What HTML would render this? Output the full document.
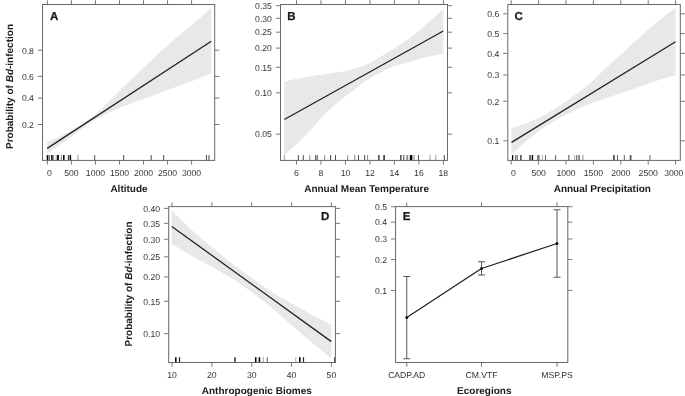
<!DOCTYPE html>
<html><head><meta charset="utf-8"><title>Figure</title>
<style>html,body{margin:0;padding:0;background:#fff}svg{display:block}text{font-family:"Liberation Sans",sans-serif;text-rendering:geometricPrecision}</style>
</head><body>
<svg width="685" height="396" viewBox="0 0 685 396">
<rect width="685" height="396" fill="#fff"/>
<g>
<polygon points="47.2,141.4 51.3,140.28 55.41,138.81 59.51,136.87 63.61,134.72 67.71,132.44 71.81,130.11 75.92,127.72 80.02,125.16 84.12,122.39 88.23,119.51 92.33,116.5 96.43,113.18 100.53,109.61 104.64,105.65 108.74,101.48 112.84,97.29 116.94,93.25 121.05,89.26 125.15,85.3 129.25,81.35 133.35,77.41 137.46,73.49 141.56,69.59 145.66,65.7 149.76,61.87 153.87,58.06 157.97,54.26 162.07,50.5 166.17,46.79 170.28,43.15 174.38,39.59 178.48,36.11 182.58,32.66 186.69,29.23 190.79,25.78 194.89,22.3 198.99,18.76 203.1,15.2 207.2,11.61 211.3,8.0 211.3,73.2 207.2,74.93 203.1,76.62 198.99,78.28 194.89,79.89 190.79,81.45 186.69,82.96 182.58,84.45 178.48,85.92 174.38,87.41 170.28,88.94 166.17,90.51 162.07,92.11 157.97,93.71 153.87,95.29 149.76,96.83 145.66,98.3 141.56,99.71 137.46,101.13 133.35,102.62 129.25,104.16 125.15,105.71 121.05,107.32 116.94,109.05 112.84,110.92 108.74,112.84 104.64,114.83 100.53,116.95 96.43,119.23 92.33,121.59 88.23,124.23 84.12,127.14 80.02,130.14 75.92,133.23 71.81,136.4 67.71,139.45 63.61,142.4 59.51,145.29 55.41,148.07 51.3,150.8 47.2,153.5" fill="#e8e8e8"/>
<polyline points="47.2,148.4 211.3,41.2" fill="none" stroke="#222" stroke-width="1.3" stroke-linejoin="round"/>
<line x1="37.9" y1="50.2" x2="42.5" y2="50.2" stroke="#555" stroke-width="0.8"/>
<line x1="214.7" y1="50.2" x2="219.29999999999998" y2="50.2" stroke="#555" stroke-width="0.8"/>
<text x="33.9" y="53.5" text-anchor="end" font-size="8.65" fill="#333" >0.8</text>
<line x1="37.9" y1="76.4" x2="42.5" y2="76.4" stroke="#555" stroke-width="0.8"/>
<line x1="214.7" y1="76.4" x2="219.29999999999998" y2="76.4" stroke="#555" stroke-width="0.8"/>
<text x="33.9" y="79.7" text-anchor="end" font-size="8.65" fill="#333" >0.6</text>
<line x1="37.9" y1="98.1" x2="42.5" y2="98.1" stroke="#555" stroke-width="0.8"/>
<line x1="214.7" y1="98.1" x2="219.29999999999998" y2="98.1" stroke="#555" stroke-width="0.8"/>
<text x="33.9" y="101.39999999999999" text-anchor="end" font-size="8.65" fill="#333" >0.4</text>
<line x1="37.9" y1="124.5" x2="42.5" y2="124.5" stroke="#555" stroke-width="0.8"/>
<line x1="214.7" y1="124.5" x2="219.29999999999998" y2="124.5" stroke="#555" stroke-width="0.8"/>
<text x="33.9" y="127.8" text-anchor="end" font-size="8.65" fill="#333" >0.2</text>
<line x1="47.4" y1="0.2999999999999998" x2="47.4" y2="4.5" stroke="#555" stroke-width="0.8"/>
<line x1="47.4" y1="160.4" x2="47.4" y2="164.6" stroke="#555" stroke-width="0.8"/>
<text x="49.4" y="175.6" text-anchor="middle" font-size="8.65" fill="#333" >0</text>
<line x1="71.43" y1="0.2999999999999998" x2="71.43" y2="4.5" stroke="#555" stroke-width="0.8"/>
<line x1="71.43" y1="160.4" x2="71.43" y2="164.6" stroke="#555" stroke-width="0.8"/>
<text x="71.43" y="175.6" text-anchor="middle" font-size="8.65" fill="#333" >500</text>
<line x1="95.46000000000001" y1="0.2999999999999998" x2="95.46000000000001" y2="4.5" stroke="#555" stroke-width="0.8"/>
<line x1="95.46000000000001" y1="160.4" x2="95.46000000000001" y2="164.6" stroke="#555" stroke-width="0.8"/>
<text x="95.46000000000001" y="175.6" text-anchor="middle" font-size="8.65" fill="#333" >1000</text>
<line x1="119.49000000000001" y1="0.2999999999999998" x2="119.49000000000001" y2="4.5" stroke="#555" stroke-width="0.8"/>
<line x1="119.49000000000001" y1="160.4" x2="119.49000000000001" y2="164.6" stroke="#555" stroke-width="0.8"/>
<text x="119.49000000000001" y="175.6" text-anchor="middle" font-size="8.65" fill="#333" >1500</text>
<line x1="143.52" y1="0.2999999999999998" x2="143.52" y2="4.5" stroke="#555" stroke-width="0.8"/>
<line x1="143.52" y1="160.4" x2="143.52" y2="164.6" stroke="#555" stroke-width="0.8"/>
<text x="143.52" y="175.6" text-anchor="middle" font-size="8.65" fill="#333" >2000</text>
<line x1="167.55" y1="0.2999999999999998" x2="167.55" y2="4.5" stroke="#555" stroke-width="0.8"/>
<line x1="167.55" y1="160.4" x2="167.55" y2="164.6" stroke="#555" stroke-width="0.8"/>
<text x="167.55" y="175.6" text-anchor="middle" font-size="8.65" fill="#333" >2500</text>
<line x1="191.58" y1="0.2999999999999998" x2="191.58" y2="4.5" stroke="#555" stroke-width="0.8"/>
<line x1="191.58" y1="160.4" x2="191.58" y2="164.6" stroke="#555" stroke-width="0.8"/>
<text x="191.58" y="175.6" text-anchor="middle" font-size="8.65" fill="#333" >3000</text>
<line x1="47.5" y1="155.1" x2="47.5" y2="160.4" stroke="#000" stroke-width="1.6"/>
<line x1="49.3" y1="155.1" x2="49.3" y2="160.4" stroke="#333" stroke-width="0.9"/>
<line x1="51.6" y1="155.1" x2="51.6" y2="160.4" stroke="#222" stroke-width="1.2"/>
<line x1="52.9" y1="155.1" x2="52.9" y2="160.4" stroke="#222" stroke-width="1.2"/>
<line x1="56.2" y1="155.1" x2="56.2" y2="160.4" stroke="#999" stroke-width="1"/>
<line x1="58" y1="155.1" x2="58" y2="160.4" stroke="#000" stroke-width="1.8"/>
<line x1="61.4" y1="155.1" x2="61.4" y2="160.4" stroke="#666" stroke-width="0.8"/>
<line x1="63.8" y1="155.1" x2="63.8" y2="160.4" stroke="#111" stroke-width="1.6"/>
<line x1="68.5" y1="155.1" x2="68.5" y2="160.4" stroke="#333" stroke-width="1.2"/>
<line x1="70.4" y1="155.1" x2="70.4" y2="160.4" stroke="#000" stroke-width="1.4"/>
<line x1="78" y1="155.1" x2="78" y2="160.4" stroke="#888" stroke-width="0.9"/>
<line x1="94.7" y1="155.1" x2="94.7" y2="160.4" stroke="#333" stroke-width="0.9"/>
<line x1="123.7" y1="155.1" x2="123.7" y2="160.4" stroke="#333" stroke-width="0.9"/>
<line x1="151.2" y1="155.1" x2="151.2" y2="160.4" stroke="#333" stroke-width="0.9"/>
<line x1="163.7" y1="155.1" x2="163.7" y2="160.4" stroke="#333" stroke-width="0.9"/>
<line x1="206.5" y1="155.1" x2="206.5" y2="160.4" stroke="#333" stroke-width="0.9"/>
<line x1="209" y1="155.1" x2="209" y2="160.4" stroke="#333" stroke-width="0.9"/>
<rect x="42.5" y="4.5" width="172.2" height="155.9" fill="none" stroke="#686868" stroke-width="1"/>
<text x="50" y="19.8" text-anchor="start" font-size="11.5" font-weight="bold" fill="#1a1a1a" stroke="#1a1a1a" stroke-width="0.25">A</text>
<text x="129" y="192" text-anchor="middle" font-size="10" font-weight="bold" fill="#1a1a1a" >Altitude</text>
<polygon points="284.3,81.7 288.28,80.77 292.25,79.87 296.23,79.02 300.2,78.21 304.18,77.44 308.15,76.72 312.12,76.09 316.1,75.51 320.07,74.95 324.05,74.38 328.03,73.79 332.0,73.14 335.98,72.55 339.95,71.97 343.93,71.3 347.9,70.44 351.88,69.34 355.85,68.23 359.83,67.06 363.8,65.71 367.77,64.03 371.75,61.92 375.73,59.62 379.7,57.24 383.68,54.81 387.65,52.36 391.62,49.9 395.6,47.42 399.58,44.9 403.55,42.31 407.52,39.65 411.5,36.89 415.48,33.81 419.45,30.41 423.43,26.83 427.4,23.22 431.38,19.69 435.35,16.17 439.33,12.6 443.3,9.0 443.3,54.0 439.33,54.56 435.35,55.22 431.38,56.0 427.4,56.92 423.43,57.96 419.45,59.07 415.48,60.22 411.5,61.39 407.52,62.48 403.55,63.48 399.58,64.52 395.6,65.74 391.62,67.27 387.65,69.12 383.68,71.02 379.7,72.98 375.73,75.01 371.75,77.13 367.77,79.47 363.8,82.29 359.83,85.37 355.85,88.46 351.88,91.46 347.9,94.49 343.93,97.58 339.95,100.74 335.98,103.99 332.0,107.37 328.03,110.96 324.05,114.92 320.07,119.16 316.1,123.55 312.12,127.96 308.15,132.25 304.18,136.31 300.2,140.25 296.23,144.13 292.25,147.95 288.28,151.7 284.3,155.4" fill="#e8e8e8"/>
<polyline points="284.3,119.5 443.3,31" fill="none" stroke="#222" stroke-width="1.3" stroke-linejoin="round"/>
<line x1="275.9" y1="5.7" x2="280.5" y2="5.7" stroke="#555" stroke-width="0.8"/>
<line x1="447.5" y1="5.7" x2="452.1" y2="5.7" stroke="#555" stroke-width="0.8"/>
<text x="271.9" y="9.0" text-anchor="end" font-size="8.65" fill="#333" >0.35</text>
<line x1="275.9" y1="18.30900793542934" x2="280.5" y2="18.30900793542934" stroke="#555" stroke-width="0.8"/>
<line x1="447.5" y1="18.30900793542934" x2="452.1" y2="18.30900793542934" stroke="#555" stroke-width="0.8"/>
<text x="271.9" y="21.60900793542934" text-anchor="end" font-size="8.65" fill="#333" >0.30</text>
<line x1="275.9" y1="32.1916169536666" x2="280.5" y2="32.1916169536666" stroke="#555" stroke-width="0.8"/>
<line x1="447.5" y1="32.1916169536666" x2="452.1" y2="32.1916169536666" stroke="#555" stroke-width="0.8"/>
<text x="271.9" y="35.4916169536666" text-anchor="end" font-size="8.65" fill="#333" >0.25</text>
<line x1="275.9" y1="48.08317463590297" x2="280.5" y2="48.08317463590297" stroke="#555" stroke-width="0.8"/>
<line x1="447.5" y1="48.08317463590297" x2="452.1" y2="48.08317463590297" stroke="#555" stroke-width="0.8"/>
<text x="271.9" y="51.38317463590297" text-anchor="end" font-size="8.65" fill="#333" >0.20</text>
<line x1="275.9" y1="67.32363642727921" x2="280.5" y2="67.32363642727921" stroke="#555" stroke-width="0.8"/>
<line x1="447.5" y1="67.32363642727921" x2="452.1" y2="67.32363642727921" stroke="#555" stroke-width="0.8"/>
<text x="271.9" y="70.62363642727921" text-anchor="end" font-size="8.65" fill="#333" >0.15</text>
<line x1="275.9" y1="92.87895977969296" x2="280.5" y2="92.87895977969296" stroke="#555" stroke-width="0.8"/>
<line x1="447.5" y1="92.87895977969296" x2="452.1" y2="92.87895977969296" stroke="#555" stroke-width="0.8"/>
<text x="271.9" y="96.17895977969296" text-anchor="end" font-size="8.65" fill="#333" >0.10</text>
<line x1="275.9" y1="134.15508333679435" x2="280.5" y2="134.15508333679435" stroke="#555" stroke-width="0.8"/>
<line x1="447.5" y1="134.15508333679435" x2="452.1" y2="134.15508333679435" stroke="#555" stroke-width="0.8"/>
<text x="271.9" y="137.45508333679436" text-anchor="end" font-size="8.65" fill="#333" >0.05</text>
<line x1="296.5" y1="0.2999999999999998" x2="296.5" y2="4.5" stroke="#555" stroke-width="0.8"/>
<line x1="296.5" y1="160.4" x2="296.5" y2="164.6" stroke="#555" stroke-width="0.8"/>
<text x="296.5" y="175.6" text-anchor="middle" font-size="8.65" fill="#333" >6</text>
<line x1="320.98" y1="0.2999999999999998" x2="320.98" y2="4.5" stroke="#555" stroke-width="0.8"/>
<line x1="320.98" y1="160.4" x2="320.98" y2="164.6" stroke="#555" stroke-width="0.8"/>
<text x="320.98" y="175.6" text-anchor="middle" font-size="8.65" fill="#333" >8</text>
<line x1="345.46" y1="0.2999999999999998" x2="345.46" y2="4.5" stroke="#555" stroke-width="0.8"/>
<line x1="345.46" y1="160.4" x2="345.46" y2="164.6" stroke="#555" stroke-width="0.8"/>
<text x="345.46" y="175.6" text-anchor="middle" font-size="8.65" fill="#333" >10</text>
<line x1="369.94" y1="0.2999999999999998" x2="369.94" y2="4.5" stroke="#555" stroke-width="0.8"/>
<line x1="369.94" y1="160.4" x2="369.94" y2="164.6" stroke="#555" stroke-width="0.8"/>
<text x="369.94" y="175.6" text-anchor="middle" font-size="8.65" fill="#333" >12</text>
<line x1="394.42" y1="0.2999999999999998" x2="394.42" y2="4.5" stroke="#555" stroke-width="0.8"/>
<line x1="394.42" y1="160.4" x2="394.42" y2="164.6" stroke="#555" stroke-width="0.8"/>
<text x="394.42" y="175.6" text-anchor="middle" font-size="8.65" fill="#333" >14</text>
<line x1="418.9" y1="0.2999999999999998" x2="418.9" y2="4.5" stroke="#555" stroke-width="0.8"/>
<line x1="418.9" y1="160.4" x2="418.9" y2="164.6" stroke="#555" stroke-width="0.8"/>
<text x="418.9" y="175.6" text-anchor="middle" font-size="8.65" fill="#333" >16</text>
<line x1="443.38" y1="0.2999999999999998" x2="443.38" y2="4.5" stroke="#555" stroke-width="0.8"/>
<line x1="443.38" y1="160.4" x2="443.38" y2="164.6" stroke="#555" stroke-width="0.8"/>
<text x="443.38" y="175.6" text-anchor="middle" font-size="8.65" fill="#333" >18</text>
<line x1="284.3" y1="155.1" x2="284.3" y2="160.4" stroke="#999" stroke-width="1"/>
<line x1="298.4" y1="155.1" x2="298.4" y2="160.4" stroke="#333" stroke-width="0.9"/>
<line x1="303.3" y1="155.1" x2="303.3" y2="160.4" stroke="#333" stroke-width="0.9"/>
<line x1="309.8" y1="155.1" x2="309.8" y2="160.4" stroke="#888" stroke-width="1"/>
<line x1="315.7" y1="155.1" x2="315.7" y2="160.4" stroke="#333" stroke-width="0.9"/>
<line x1="317.2" y1="155.1" x2="317.2" y2="160.4" stroke="#333" stroke-width="0.9"/>
<line x1="324.7" y1="155.1" x2="324.7" y2="160.4" stroke="#888" stroke-width="1"/>
<line x1="330.6" y1="155.1" x2="330.6" y2="160.4" stroke="#444" stroke-width="1"/>
<line x1="335.5" y1="155.1" x2="335.5" y2="160.4" stroke="#333" stroke-width="0.9"/>
<line x1="347.6" y1="155.1" x2="347.6" y2="160.4" stroke="#888" stroke-width="1"/>
<line x1="354.8" y1="155.1" x2="354.8" y2="160.4" stroke="#888" stroke-width="1"/>
<line x1="358.5" y1="155.1" x2="358.5" y2="160.4" stroke="#333" stroke-width="0.9"/>
<line x1="364.6" y1="155.1" x2="364.6" y2="160.4" stroke="#333" stroke-width="0.9"/>
<line x1="367.6" y1="155.1" x2="367.6" y2="160.4" stroke="#888" stroke-width="1"/>
<line x1="378.9" y1="155.1" x2="378.9" y2="160.4" stroke="#444" stroke-width="1.5"/>
<line x1="384.1" y1="155.1" x2="384.1" y2="160.4" stroke="#333" stroke-width="1.6"/>
<line x1="400.8" y1="155.1" x2="400.8" y2="160.4" stroke="#555" stroke-width="1.6"/>
<line x1="403.7" y1="155.1" x2="403.7" y2="160.4" stroke="#777" stroke-width="1.4"/>
<line x1="407.3" y1="155.1" x2="407.3" y2="160.4" stroke="#888" stroke-width="1.8"/>
<line x1="411.1" y1="155.1" x2="411.1" y2="160.4" stroke="#000" stroke-width="2.6"/>
<line x1="414.1" y1="155.1" x2="414.1" y2="160.4" stroke="#888" stroke-width="1"/>
<line x1="418.5" y1="155.1" x2="418.5" y2="160.4" stroke="#333" stroke-width="0.9"/>
<line x1="430" y1="155.1" x2="430" y2="160.4" stroke="#999" stroke-width="1"/>
<line x1="435.8" y1="155.1" x2="435.8" y2="160.4" stroke="#999" stroke-width="1"/>
<line x1="444.3" y1="155.1" x2="444.3" y2="160.4" stroke="#333" stroke-width="0.9"/>
<rect x="280.5" y="4.5" width="167.0" height="155.9" fill="none" stroke="#686868" stroke-width="1"/>
<text x="287.3" y="19.8" text-anchor="start" font-size="11.5" font-weight="bold" fill="#1a1a1a" stroke="#1a1a1a" stroke-width="0.25">B</text>
<text x="366.6" y="192" text-anchor="middle" font-size="10" font-weight="bold" fill="#1a1a1a" >Annual Mean Temperature</text>
<polygon points="511.5,128.3 515.6,126.99 519.71,125.59 523.81,124.06 527.91,122.41 532.01,120.8 536.12,119.12 540.22,117.25 544.32,115.05 548.42,112.55 552.52,110.01 556.63,107.46 560.73,104.89 564.83,102.18 568.94,99.32 573.04,96.37 577.14,93.39 581.24,90.29 585.35,87.07 589.45,83.71 593.55,80.11 597.65,76.16 601.75,72.06 605.86,68.03 609.96,64.23 614.06,60.54 618.16,56.9 622.27,53.26 626.37,49.56 630.47,45.77 634.58,41.94 638.68,38.14 642.78,34.44 646.88,30.83 650.99,27.26 655.09,23.77 659.19,20.39 663.29,17.12 667.39,13.92 671.5,10.79 675.6,7.75 675.6,75.25 671.5,76.34 667.39,77.48 663.29,78.69 659.19,79.97 655.09,81.34 650.99,82.75 646.88,84.19 642.78,85.62 638.68,87.04 634.58,88.47 630.47,89.89 626.37,91.31 622.27,92.7 618.16,94.07 614.06,95.43 609.96,96.82 605.86,98.23 601.75,99.64 597.65,101.07 593.55,102.57 589.45,104.18 585.35,105.86 581.24,107.62 577.14,109.45 573.04,111.38 568.94,113.31 564.83,115.33 560.73,117.53 556.63,119.91 552.52,122.32 548.42,124.77 544.32,127.28 540.22,130.07 536.12,133.14 532.01,136.4 527.91,139.76 523.81,143.17 519.71,146.84 515.6,150.79 511.5,154.9" fill="#e8e8e8"/>
<polyline points="511.5,142.4 675.6,41.75" fill="none" stroke="#222" stroke-width="1.3" stroke-linejoin="round"/>
<line x1="503.2" y1="13.813302724321588" x2="507.8" y2="13.813302724321588" stroke="#555" stroke-width="0.8"/>
<line x1="680.3" y1="13.813302724321588" x2="684.9" y2="13.813302724321588" stroke="#555" stroke-width="0.8"/>
<text x="499.2" y="17.11330272432159" text-anchor="end" font-size="8.65" fill="#333" >0.6</text>
<line x1="503.2" y1="33.6" x2="507.8" y2="33.6" stroke="#555" stroke-width="0.8"/>
<line x1="680.3" y1="33.6" x2="684.9" y2="33.6" stroke="#555" stroke-width="0.8"/>
<text x="499.2" y="36.9" text-anchor="end" font-size="8.65" fill="#333" >0.5</text>
<line x1="503.2" y1="53.386697275678415" x2="507.8" y2="53.386697275678415" stroke="#555" stroke-width="0.8"/>
<line x1="680.3" y1="53.386697275678415" x2="684.9" y2="53.386697275678415" stroke="#555" stroke-width="0.8"/>
<text x="499.2" y="56.68669727567841" text-anchor="end" font-size="8.65" fill="#333" >0.4</text>
<line x1="503.2" y1="74.94813558689553" x2="507.8" y2="74.94813558689553" stroke="#555" stroke-width="0.8"/>
<line x1="680.3" y1="74.94813558689553" x2="684.9" y2="74.94813558689553" stroke="#555" stroke-width="0.8"/>
<text x="499.2" y="78.24813558689553" text-anchor="end" font-size="8.65" fill="#333" >0.3</text>
<line x1="503.2" y1="101.25116482265065" x2="507.8" y2="101.25116482265065" stroke="#555" stroke-width="0.8"/>
<line x1="680.3" y1="101.25116482265065" x2="684.9" y2="101.25116482265065" stroke="#555" stroke-width="0.8"/>
<text x="499.2" y="104.55116482265065" text-anchor="end" font-size="8.65" fill="#333" >0.2</text>
<line x1="503.2" y1="140.8245593740075" x2="507.8" y2="140.8245593740075" stroke="#555" stroke-width="0.8"/>
<line x1="680.3" y1="140.8245593740075" x2="684.9" y2="140.8245593740075" stroke="#555" stroke-width="0.8"/>
<text x="499.2" y="144.1245593740075" text-anchor="end" font-size="8.65" fill="#333" >0.1</text>
<line x1="511.2" y1="0.2999999999999998" x2="511.2" y2="4.5" stroke="#555" stroke-width="0.8"/>
<line x1="511.2" y1="160.4" x2="511.2" y2="164.6" stroke="#555" stroke-width="0.8"/>
<text x="513.4" y="175.6" text-anchor="middle" font-size="8.65" fill="#333" >0</text>
<line x1="538.6" y1="0.2999999999999998" x2="538.6" y2="4.5" stroke="#555" stroke-width="0.8"/>
<line x1="538.6" y1="160.4" x2="538.6" y2="164.6" stroke="#555" stroke-width="0.8"/>
<text x="538.6" y="175.6" text-anchor="middle" font-size="8.65" fill="#333" >500</text>
<line x1="566.0" y1="0.2999999999999998" x2="566.0" y2="4.5" stroke="#555" stroke-width="0.8"/>
<line x1="566.0" y1="160.4" x2="566.0" y2="164.6" stroke="#555" stroke-width="0.8"/>
<text x="566.0" y="175.6" text-anchor="middle" font-size="8.65" fill="#333" >1000</text>
<line x1="593.4" y1="0.2999999999999998" x2="593.4" y2="4.5" stroke="#555" stroke-width="0.8"/>
<line x1="593.4" y1="160.4" x2="593.4" y2="164.6" stroke="#555" stroke-width="0.8"/>
<text x="593.4" y="175.6" text-anchor="middle" font-size="8.65" fill="#333" >1500</text>
<line x1="620.8" y1="0.2999999999999998" x2="620.8" y2="4.5" stroke="#555" stroke-width="0.8"/>
<line x1="620.8" y1="160.4" x2="620.8" y2="164.6" stroke="#555" stroke-width="0.8"/>
<text x="620.8" y="175.6" text-anchor="middle" font-size="8.65" fill="#333" >2000</text>
<line x1="648.2" y1="0.2999999999999998" x2="648.2" y2="4.5" stroke="#555" stroke-width="0.8"/>
<line x1="648.2" y1="160.4" x2="648.2" y2="164.6" stroke="#555" stroke-width="0.8"/>
<text x="648.2" y="175.6" text-anchor="middle" font-size="8.65" fill="#333" >2500</text>
<line x1="675.6" y1="0.2999999999999998" x2="675.6" y2="4.5" stroke="#555" stroke-width="0.8"/>
<line x1="675.6" y1="160.4" x2="675.6" y2="164.6" stroke="#555" stroke-width="0.8"/>
<text x="673.8000000000001" y="175.6" text-anchor="middle" font-size="8.65" fill="#333" >3000</text>
<line x1="512.6" y1="155.1" x2="512.6" y2="160.4" stroke="#000" stroke-width="1.3"/>
<line x1="515.7" y1="155.1" x2="515.7" y2="160.4" stroke="#555" stroke-width="1"/>
<line x1="517.2" y1="155.1" x2="517.2" y2="160.4" stroke="#555" stroke-width="1"/>
<line x1="520.9" y1="155.1" x2="520.9" y2="160.4" stroke="#333" stroke-width="1.4"/>
<line x1="530" y1="155.1" x2="530" y2="160.4" stroke="#444" stroke-width="1.5"/>
<line x1="532.4" y1="155.1" x2="532.4" y2="160.4" stroke="#000" stroke-width="1.4"/>
<line x1="537.8" y1="155.1" x2="537.8" y2="160.4" stroke="#555" stroke-width="1.1"/>
<line x1="539" y1="155.1" x2="539" y2="160.4" stroke="#555" stroke-width="1.1"/>
<line x1="542.4" y1="155.1" x2="542.4" y2="160.4" stroke="#aaa" stroke-width="1"/>
<line x1="545.5" y1="155.1" x2="545.5" y2="160.4" stroke="#333" stroke-width="0.8"/>
<line x1="555.6" y1="155.1" x2="555.6" y2="160.4" stroke="#333" stroke-width="0.8"/>
<line x1="568.8" y1="155.1" x2="568.8" y2="160.4" stroke="#888" stroke-width="1.5"/>
<line x1="574.6" y1="155.1" x2="574.6" y2="160.4" stroke="#aaa" stroke-width="1"/>
<line x1="576.5" y1="155.1" x2="576.5" y2="160.4" stroke="#888" stroke-width="1"/>
<line x1="578" y1="155.1" x2="578" y2="160.4" stroke="#888" stroke-width="1"/>
<line x1="579.3" y1="155.1" x2="579.3" y2="160.4" stroke="#555" stroke-width="1"/>
<line x1="582.9" y1="155.1" x2="582.9" y2="160.4" stroke="#888" stroke-width="1"/>
<line x1="613.9" y1="155.1" x2="613.9" y2="160.4" stroke="#555" stroke-width="1.8"/>
<line x1="617.5" y1="155.1" x2="617.5" y2="160.4" stroke="#333" stroke-width="0.8"/>
<line x1="624.3" y1="155.1" x2="624.3" y2="160.4" stroke="#333" stroke-width="0.8"/>
<line x1="630.6" y1="155.1" x2="630.6" y2="160.4" stroke="#555" stroke-width="1.8"/>
<line x1="649.9" y1="155.1" x2="649.9" y2="160.4" stroke="#888" stroke-width="1.3"/>
<rect x="507.8" y="4.5" width="172.49999999999994" height="155.9" fill="none" stroke="#686868" stroke-width="1"/>
<text x="514.4" y="19.7" text-anchor="start" font-size="11.5" font-weight="bold" fill="#1a1a1a" stroke="#1a1a1a" stroke-width="0.25">C</text>
<text x="602.3" y="192" text-anchor="middle" font-size="10" font-weight="bold" fill="#1a1a1a" >Annual Precipitation</text>
<polygon points="171.8,210.3 175.79,214.47 179.78,218.55 183.77,222.51 187.76,226.32 191.75,229.95 195.74,233.49 199.73,236.95 203.72,240.36 207.71,243.71 211.7,247.02 215.69,250.27 219.68,253.52 223.67,256.76 227.66,259.99 231.65,263.16 235.64,266.24 239.63,269.21 243.62,272.1 247.61,274.97 251.6,277.85 255.59,280.73 259.58,283.61 263.57,286.48 267.56,289.31 271.55,291.92 275.54,294.34 279.53,296.64 283.52,298.87 287.51,301.1 291.5,303.38 295.49,305.65 299.48,307.88 303.47,310.08 307.46,312.25 311.45,314.4 315.44,316.55 319.43,318.68 323.42,320.77 327.41,322.85 331.4,324.9 331.4,358.5 327.41,355.28 323.42,352.03 319.43,348.75 315.44,345.46 311.45,342.13 307.46,338.76 303.47,335.38 299.48,331.98 295.49,328.57 291.5,325.16 287.51,321.72 283.52,318.19 279.53,314.63 275.54,311.1 271.55,307.67 267.56,304.4 263.57,301.31 259.58,298.29 255.59,295.28 251.6,292.29 247.61,289.33 243.62,286.41 239.63,283.52 235.64,280.82 231.65,278.32 227.66,275.95 223.67,273.67 219.68,271.41 215.69,269.13 211.7,266.85 207.71,264.68 203.72,262.55 199.73,260.42 195.74,258.25 191.75,255.99 187.76,253.62 183.77,251.21 179.78,248.75 175.79,246.25 171.8,243.7" fill="#e8e8e8"/>
<polyline points="171.8,226.5 331.4,341.6" fill="none" stroke="#222" stroke-width="1.3" stroke-linejoin="round"/>
<line x1="164.1" y1="208.4" x2="168.7" y2="208.4" stroke="#555" stroke-width="0.8"/>
<line x1="335.4" y1="208.4" x2="340.0" y2="208.4" stroke="#555" stroke-width="0.8"/>
<text x="160.1" y="211.70000000000002" text-anchor="end" font-size="8.65" fill="#333" >0.40</text>
<line x1="164.1" y1="223.32882961083436" x2="168.7" y2="223.32882961083436" stroke="#555" stroke-width="0.8"/>
<line x1="335.4" y1="223.32882961083436" x2="340.0" y2="223.32882961083436" stroke="#555" stroke-width="0.8"/>
<text x="160.1" y="226.62882961083437" text-anchor="end" font-size="8.65" fill="#333" >0.35</text>
<line x1="164.1" y1="239.28410938430486" x2="168.7" y2="239.28410938430486" stroke="#555" stroke-width="0.8"/>
<line x1="335.4" y1="239.28410938430486" x2="340.0" y2="239.28410938430486" stroke="#555" stroke-width="0.8"/>
<text x="160.1" y="242.58410938430487" text-anchor="end" font-size="8.65" fill="#333" >0.30</text>
<line x1="164.1" y1="256.8509879211402" x2="168.7" y2="256.8509879211402" stroke="#555" stroke-width="0.8"/>
<line x1="335.4" y1="256.8509879211402" x2="340.0" y2="256.8509879211402" stroke="#555" stroke-width="0.8"/>
<text x="160.1" y="260.1509879211402" text-anchor="end" font-size="8.65" fill="#333" >0.25</text>
<line x1="164.1" y1="276.9599647855197" x2="168.7" y2="276.9599647855197" stroke="#555" stroke-width="0.8"/>
<line x1="335.4" y1="276.9599647855197" x2="340.0" y2="276.9599647855197" stroke="#555" stroke-width="0.8"/>
<text x="160.1" y="280.2599647855197" text-anchor="end" font-size="8.65" fill="#333" >0.20</text>
<line x1="164.1" y1="301.30660271486795" x2="168.7" y2="301.30660271486795" stroke="#555" stroke-width="0.8"/>
<line x1="335.4" y1="301.30660271486795" x2="340.0" y2="301.30660271486795" stroke="#555" stroke-width="0.8"/>
<text x="160.1" y="304.60660271486796" text-anchor="end" font-size="8.65" fill="#333" >0.15</text>
<line x1="164.1" y1="333.64398689904107" x2="168.7" y2="333.64398689904107" stroke="#555" stroke-width="0.8"/>
<line x1="335.4" y1="333.64398689904107" x2="340.0" y2="333.64398689904107" stroke="#555" stroke-width="0.8"/>
<text x="160.1" y="336.9439868990411" text-anchor="end" font-size="8.65" fill="#333" >0.10</text>
<line x1="172.0" y1="202.4" x2="172.0" y2="206.6" stroke="#555" stroke-width="0.8"/>
<line x1="172.0" y1="362.5" x2="172.0" y2="366.7" stroke="#555" stroke-width="0.8"/>
<text x="172.0" y="378.3" text-anchor="middle" font-size="8.65" fill="#333" >10</text>
<line x1="211.85" y1="202.4" x2="211.85" y2="206.6" stroke="#555" stroke-width="0.8"/>
<line x1="211.85" y1="362.5" x2="211.85" y2="366.7" stroke="#555" stroke-width="0.8"/>
<text x="211.85" y="378.3" text-anchor="middle" font-size="8.65" fill="#333" >20</text>
<line x1="251.7" y1="202.4" x2="251.7" y2="206.6" stroke="#555" stroke-width="0.8"/>
<line x1="251.7" y1="362.5" x2="251.7" y2="366.7" stroke="#555" stroke-width="0.8"/>
<text x="251.7" y="378.3" text-anchor="middle" font-size="8.65" fill="#333" >30</text>
<line x1="291.55" y1="202.4" x2="291.55" y2="206.6" stroke="#555" stroke-width="0.8"/>
<line x1="291.55" y1="362.5" x2="291.55" y2="366.7" stroke="#555" stroke-width="0.8"/>
<text x="291.55" y="378.3" text-anchor="middle" font-size="8.65" fill="#333" >40</text>
<line x1="331.4" y1="202.4" x2="331.4" y2="206.6" stroke="#555" stroke-width="0.8"/>
<line x1="331.4" y1="362.5" x2="331.4" y2="366.7" stroke="#555" stroke-width="0.8"/>
<text x="331.4" y="378.3" text-anchor="middle" font-size="8.65" fill="#333" >50</text>
<line x1="175.8" y1="357.2" x2="175.8" y2="362.5" stroke="#000" stroke-width="1.5"/>
<line x1="179.5" y1="357.2" x2="179.5" y2="362.5" stroke="#222" stroke-width="1.2"/>
<line x1="235" y1="357.2" x2="235" y2="362.5" stroke="#222" stroke-width="1.4"/>
<line x1="255.7" y1="357.2" x2="255.7" y2="362.5" stroke="#000" stroke-width="1.6"/>
<line x1="259.4" y1="357.2" x2="259.4" y2="362.5" stroke="#000" stroke-width="1.6"/>
<line x1="263.4" y1="357.2" x2="263.4" y2="362.5" stroke="#aaa" stroke-width="1"/>
<line x1="267.3" y1="357.2" x2="267.3" y2="362.5" stroke="#333" stroke-width="0.8"/>
<line x1="295.8" y1="357.2" x2="295.8" y2="362.5" stroke="#aaa" stroke-width="1"/>
<line x1="299.8" y1="357.2" x2="299.8" y2="362.5" stroke="#000" stroke-width="1.6"/>
<line x1="303.5" y1="357.2" x2="303.5" y2="362.5" stroke="#222" stroke-width="1.2"/>
<line x1="334.6" y1="357.2" x2="334.6" y2="362.5" stroke="#222" stroke-width="0.9"/>
<rect x="168.7" y="206.6" width="166.7" height="155.9" fill="none" stroke="#686868" stroke-width="1"/>
<text x="321" y="220" text-anchor="start" font-size="11.5" font-weight="bold" fill="#1a1a1a" stroke="#1a1a1a" stroke-width="0.25">D</text>
<text x="256.8" y="393.5" text-anchor="middle" font-size="10" font-weight="bold" fill="#1a1a1a" >Anthropogenic Biomes</text>
<line x1="406.75" y1="276.5" x2="406.75" y2="358.75" stroke="#444" stroke-width="0.9"/>
<line x1="403.25" y1="276.5" x2="410.25" y2="276.5" stroke="#444" stroke-width="0.9"/>
<line x1="403.25" y1="358.75" x2="410.25" y2="358.75" stroke="#444" stroke-width="0.9"/>
<line x1="481.5" y1="261.75" x2="481.5" y2="275" stroke="#444" stroke-width="0.9"/>
<line x1="478.0" y1="261.75" x2="485.0" y2="261.75" stroke="#444" stroke-width="0.9"/>
<line x1="478.0" y1="275" x2="485.0" y2="275" stroke="#444" stroke-width="0.9"/>
<line x1="557" y1="209.75" x2="557" y2="277.25" stroke="#444" stroke-width="0.9"/>
<line x1="553.5" y1="209.75" x2="560.5" y2="209.75" stroke="#444" stroke-width="0.9"/>
<line x1="553.5" y1="277.25" x2="560.5" y2="277.25" stroke="#444" stroke-width="0.9"/>
<polyline points="406.75,317.5 481.5,268.5 557,243.5" fill="none" stroke="#222" stroke-width="1.3" stroke-linejoin="round"/>
<circle cx="406.75" cy="317.5" r="1.5" fill="#111"/>
<circle cx="481.5" cy="268.5" r="1.5" fill="#111"/>
<circle cx="557" cy="243.5" r="1.5" fill="#111"/>
<line x1="391.0" y1="206.7" x2="395.6" y2="206.7" stroke="#555" stroke-width="0.8"/>
<line x1="567.8" y1="206.7" x2="572.4" y2="206.7" stroke="#555" stroke-width="0.8"/>
<text x="387.0" y="210.0" text-anchor="end" font-size="8.65" fill="#333" >0.5</text>
<line x1="391.0" y1="222.14822061892104" x2="395.6" y2="222.14822061892104" stroke="#555" stroke-width="0.8"/>
<line x1="567.8" y1="222.14822061892104" x2="572.4" y2="222.14822061892104" stroke="#555" stroke-width="0.8"/>
<text x="387.0" y="225.44822061892106" text-anchor="end" font-size="8.65" fill="#333" >0.4</text>
<line x1="391.0" y1="238.98204848075244" x2="395.6" y2="238.98204848075244" stroke="#555" stroke-width="0.8"/>
<line x1="567.8" y1="238.98204848075244" x2="572.4" y2="238.98204848075244" stroke="#555" stroke-width="0.8"/>
<text x="387.0" y="242.28204848075245" text-anchor="end" font-size="8.65" fill="#333" >0.3</text>
<line x1="391.0" y1="259.5178151586678" x2="395.6" y2="259.5178151586678" stroke="#555" stroke-width="0.8"/>
<line x1="567.8" y1="259.5178151586678" x2="572.4" y2="259.5178151586678" stroke="#555" stroke-width="0.8"/>
<text x="387.0" y="262.8178151586678" text-anchor="end" font-size="8.65" fill="#333" >0.2</text>
<line x1="391.0" y1="290.4142563965099" x2="395.6" y2="290.4142563965099" stroke="#555" stroke-width="0.8"/>
<line x1="567.8" y1="290.4142563965099" x2="572.4" y2="290.4142563965099" stroke="#555" stroke-width="0.8"/>
<text x="387.0" y="293.71425639650994" text-anchor="end" font-size="8.65" fill="#333" >0.1</text>
<line x1="406.75" y1="202.4" x2="406.75" y2="206.6" stroke="#555" stroke-width="0.8"/>
<line x1="406.75" y1="362.5" x2="406.75" y2="366.7" stroke="#555" stroke-width="0.8"/>
<text x="406.75" y="378.3" text-anchor="middle" font-size="8.65" fill="#333" >CADP.AD</text>
<line x1="481.5" y1="202.4" x2="481.5" y2="206.6" stroke="#555" stroke-width="0.8"/>
<line x1="481.5" y1="362.5" x2="481.5" y2="366.7" stroke="#555" stroke-width="0.8"/>
<text x="481.5" y="378.3" text-anchor="middle" font-size="8.65" fill="#333" >CM.VTF</text>
<line x1="557" y1="202.4" x2="557" y2="206.6" stroke="#555" stroke-width="0.8"/>
<line x1="557" y1="362.5" x2="557" y2="366.7" stroke="#555" stroke-width="0.8"/>
<text x="557" y="378.3" text-anchor="middle" font-size="8.65" fill="#333" >MSP.PS</text>
<rect x="395.6" y="206.6" width="172.19999999999993" height="155.9" fill="none" stroke="#686868" stroke-width="1"/>
<text x="402.75" y="220" text-anchor="start" font-size="11.5" font-weight="bold" fill="#1a1a1a" stroke="#1a1a1a" stroke-width="0.25">E</text>
<text x="484.3" y="393.6" text-anchor="middle" font-size="10" font-weight="bold" fill="#1a1a1a" >Ecoregions</text>
<text transform="translate(13.3,86.5) rotate(-90)" text-anchor="middle" font-size="10" font-weight="bold" fill="#1a1a1a">Probability of <tspan font-style="italic">Bd</tspan>-infection</text>
<text transform="translate(131.7,284) rotate(-90)" text-anchor="middle" font-size="10" font-weight="bold" fill="#1a1a1a">Probability of <tspan font-style="italic">Bd</tspan>-infection</text>
</g>
</svg>
</body></html>
